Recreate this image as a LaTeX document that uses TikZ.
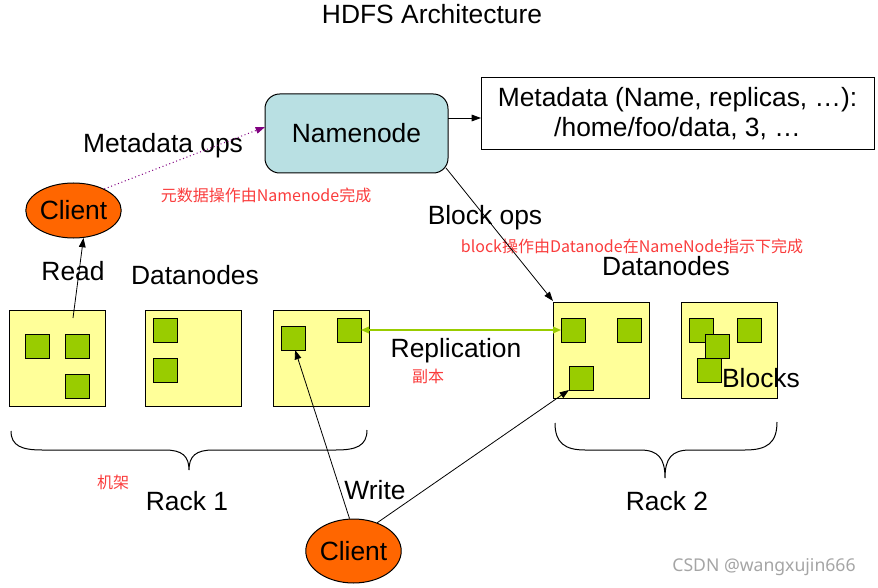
\documentclass[tikz,border=0pt]{standalone}
\usepackage{fontspec}
\setmainfont{Liberation Sans}
\newfontfamily\cjk{Noto Sans CJK SC}
\newfontfamily\wmfont{Noto Sans}
\usetikzlibrary{arrows.meta}
\definecolor{nnblue}{RGB}{185,224,227}
\definecolor{clorange}{RGB}{255,102,0}
\definecolor{dnyellow}{RGB}{255,255,153}
\definecolor{blkgreen}{RGB}{153,204,0}
\definecolor{mdpurple}{RGB}{128,0,128}
\definecolor{notered}{RGB}{250,60,60}
\definecolor{wmgray}{RGB}{165,165,165}
\tikzset{
  bigtext/.style={font=\fontsize{19.8}{23}\selectfont, inner sep=0pt},
  redtext/.style={font=\cjk\fontsize{12}{14}\selectfont, text=notered, inner sep=0pt},
  dnbox/.style={draw, fill=dnyellow, line width=0.75pt, minimum width=72pt, minimum height=72pt, inner sep=0pt, outer sep=0pt},
  blk/.style={draw, fill=blkgreen, line width=0.75pt, minimum width=18pt, minimum height=18pt, inner sep=0pt, outer sep=0pt},
  client/.style={draw, fill=clorange, ellipse, line width=0.75pt, inner sep=0pt, font=\fontsize{19.8}{23}\selectfont},
  conn/.style={line width=0.6pt, -{Triangle[length=7pt,width=5pt]}},
  brace/.style={line width=0.75pt},
}
\usetikzlibrary{shapes.geometric}
\begin{document}
\begin{tikzpicture}[x=0.75pt,y=-0.75pt]
\useasboundingbox (0,0) rectangle (878,588);
% title
\node[bigtext] (title) at (432,14) {HDFS Architecture};
% namenode
\node[draw, fill=nnblue, rounded corners=11pt, line width=0.75pt, minimum width=137.25pt, minimum height=59.25pt, inner sep=0pt, outer sep=0pt, font=\fontsize{19.8}{23}\selectfont] (nn) at (356.5,133.5) {Namenode};
% metadata box
\node[draw, fill=white, line width=0.75pt, minimum width=294.75pt, minimum height=54pt, inner sep=0pt, outer sep=0pt, align=center, font=\fontsize{19.8}{22.5}\selectfont] (meta) at (677.5,114) {Metadata (Name, replicas, \dots):\\/home/foo/data, 3, \dots};
% clients
\node[client, minimum width=71.25pt, minimum height=41.25pt] (c1) at (73.5,210.5) {Client};
\node[client, minimum width=71.25pt, minimum height=48pt] (c2) at (353.5,551) {Client};
% datanode boxes
\node[dnbox] (d1) at (57,358) {};
\node[dnbox] (d2) at (193,358) {};
\node[dnbox] (d3) at (321,358) {};
\node[dnbox] (d4) at (601,350) {};
\node[dnbox] (d5) at (729,350) {};
% blocks
\node[blk] (b11) at (37,346) {};
\node[blk] (b12) at (77,346) {};
\node[blk] (b13) at (77,386) {};
\node[blk] (b21) at (165,330) {};
\node[blk] (b22) at (165,370) {};
\node[blk] (b31) at (293,338) {};
\node[blk] (b32) at (349,330) {};
\node[blk] (b41) at (573,330) {};
\node[blk] (b42) at (629,330) {};
\node[blk] (b43) at (581,378) {};
\node[blk] (b51) at (701,330) {};
\node[blk] (b52) at (717,346) {};
\node[blk] (b53) at (709,370) {};
\node[blk] (b54) at (749,330) {};
% labels
\node[bigtext] (lmo) at (163,146) {Metadata ops};
\node[redtext] (lmo2) at (266,195) {元数据操作由Namenode完成};
\node[bigtext] (lbo) at (485,218) {Block ops};
\node[redtext] (lbo2) at (632,246) {block操作由Datanode在NameNode指示下完成};
\node[bigtext] (ldn1) at (195,275) {Datanodes};
\node[bigtext] (ldn2) at (666,266) {Datanodes};
\node[bigtext] (lread) at (73,271) {Read};
\node[bigtext] (lrep) at (456,351) {Replication};
\node[redtext] (lrep2) at (428,376) {副本};
\node[bigtext] (lblk) at (761,378) {Blocks};
\node[redtext] (lrack) at (113,482) {机架};
\node[bigtext] (lr1) at (187,501) {Rack 1};
\node[bigtext] (lr2) at (667,501) {Rack 2};
\node[bigtext] (lw) at (375,490) {Write};
\node[font=\wmfont\fontsize{13.2}{15}\selectfont, text=wmgray, inner sep=0pt] (wm) at (764,567) {CSDN @wangxujin666};
% connectors
\coordinate (nnr) at (448,118);
\coordinate (nnbr) at (446,168);
\coordinate (d4tl) at (553,301);
\coordinate (rd0) at (73,318);
\draw[conn] (nnr) -- (meta.west |- nnr);
\draw[line width=0.75pt, dotted, color=mdpurple, -{Triangle[length=7pt,width=5pt]}] (c1.35) -- (nn.west |- 0,127);
\draw[conn] (nnbr) -- (d4tl);
\draw[conn] (rd0) -- (c1.-70);
\draw[line width=0.9pt, color=blkgreen, {Triangle[length=6pt,width=5pt]}-{Triangle[length=6pt,width=5pt]}] (b32.east) -- (b41.west);
\draw[conn] (c2.97) -- (b31.-80);
\draw[conn] (c2.50) -- (b43.south west);
% braces
\draw[brace] (11,431) .. controls (11,446) and (22,450) .. (42,450) -- (165,450) .. controls (182,450) and (189,456) .. (189,470)
  .. controls (189,456) and (196,450) .. (213,450) -- (336,450) .. controls (356,450) and (367,446) .. (367,430);
\draw[brace] (555,423) .. controls (555,443) and (565,450) .. (585,450) -- (640,450) .. controls (658,450) and (665,458) .. (665,478)
  .. controls (665,458) and (672,450) .. (690,450) -- (745,450) .. controls (767,450) and (777,443) .. (777,422);
\end{tikzpicture}
\end{document}
